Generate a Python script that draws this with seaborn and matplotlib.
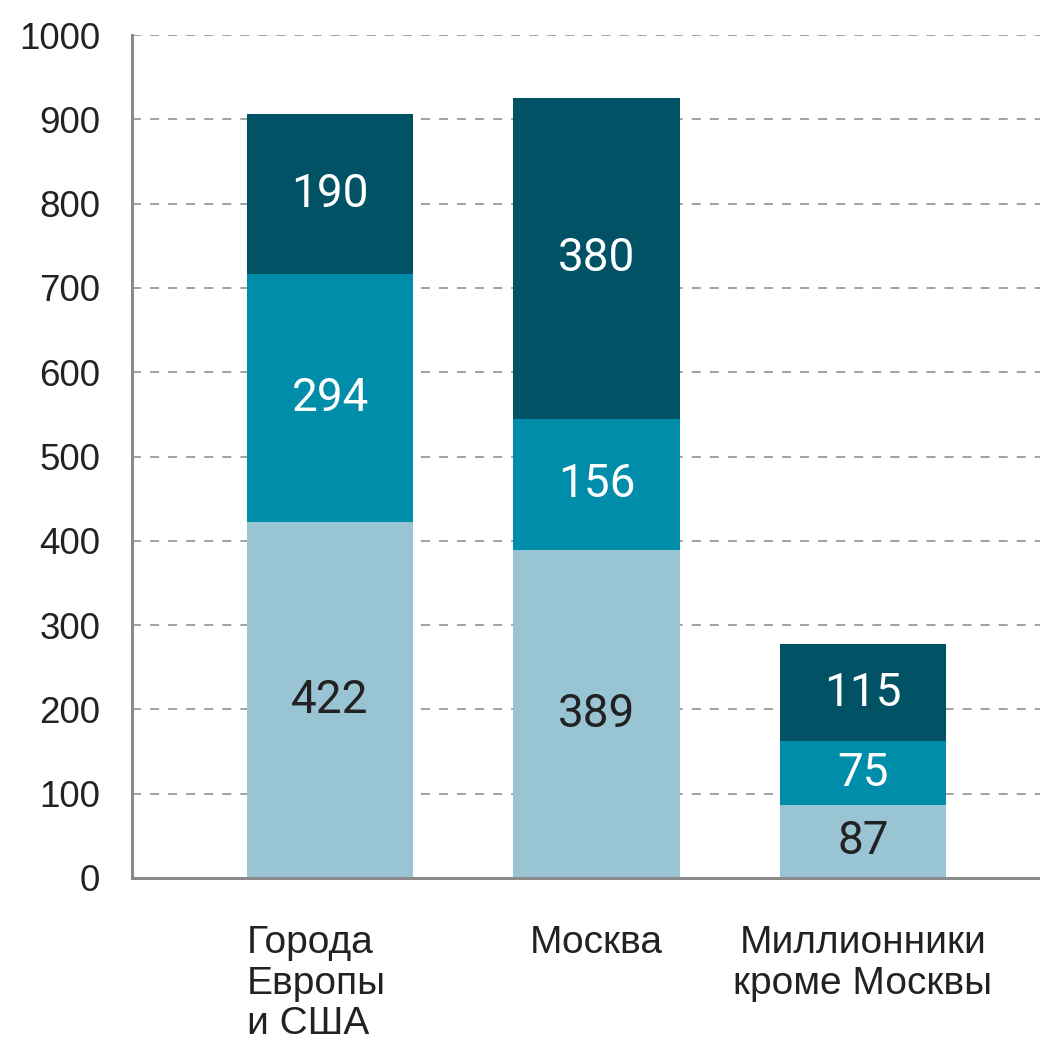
import numpy as np
import pandas as pd
import matplotlib
matplotlib.use("Agg")
import matplotlib.pyplot as plt
import matplotlib.transforms as mtransforms
import seaborn as sns

# Segment values per category, bottom to top
categories = ["Города\nЕвропы\nи США", "Москва", "Миллионники\nкроме Москвы"]
seg_bottom = [422, 389, 87]
seg_middle = [294, 156, 75]
seg_top = [190, 380, 115]
yticks = [0, 100, 200, 300, 400, 500, 600, 700, 800, 900, 1000]

colors = ["#99c4d3", "#008da9", "#005264"]
label_colors = ["#222222", "#ffffff", "#ffffff"]
bar_width = 0.625

sns.set_style("white")
plt.rcParams["font.family"] = ["Liberation Sans", "DejaVu Sans"]

segments = [seg_bottom, seg_middle, seg_top]
df = pd.DataFrame({"cat": categories})
cum = np.zeros(len(categories))
for i, seg in enumerate(segments):
    cum = cum + np.array(seg)
    df[f"top{i}"] = cum

fig = plt.figure(figsize=(10.4, 10.52), dpi=100)
ax = fig.add_axes([0.127, 0.1654, 0.873, 0.8013])

# Draw cumulative heights from tallest to shortest so each segment shows
for i in reversed(range(len(segments))):
    sns.barplot(data=df, x="cat", y=f"top{i}", color=colors[i], width=bar_width,
                saturation=1, ax=ax, zorder=2, linewidth=0)

# Value labels centred in each segment
base = np.zeros(len(categories))
for i, seg in enumerate(segments):
    for j, v in enumerate(seg):
        ax.text(j, base[j] + v / 2, str(v), ha="center", va="center",
                fontsize=33, color=label_colors[i], family=["Roboto", "DejaVu Sans"],
                zorder=3)
    base = base + np.array(seg)

ax.set_xlim(-0.743, 2.664)
ax.set_ylim(0, 1000)
ax.set_yticks(yticks)
ax.set_yticklabels([str(t) for t in yticks])
ax.set_xlabel("")
ax.set_ylabel("")

# Category names under the bars: the first block starts at its bar's left edge
ax.set_xticklabels([])
trans = mtransforms.blended_transform_factory(ax.transData, ax.transAxes)
for j, name in enumerate(categories):
    if j == 0:
        x, ha = j - bar_width / 2, "left"
    else:
        x, ha = j, "center"
    ax.text(x, -0.056, name, transform=trans, ha=ha, va="top",
            multialignment="left" if j == 0 else "center",
            fontsize=28, color="#222222", linespacing=1.16)

ax.yaxis.grid(True, linestyle=(0, (5, 5)), color="#9a9a9a", linewidth=1.3, zorder=0)
ax.set_axisbelow(True)

for side in ["top", "right"]:
    ax.spines[side].set_visible(False)
for side in ["left", "bottom"]:
    ax.spines[side].set_color("#8a8a8a")
    ax.spines[side].set_linewidth(2.2)

ax.tick_params(axis="y", length=0, pad=23, labelsize=26.5, labelcolor="#222222")
ax.tick_params(axis="x", length=0)

fig.savefig("out.png", dpi=100)
